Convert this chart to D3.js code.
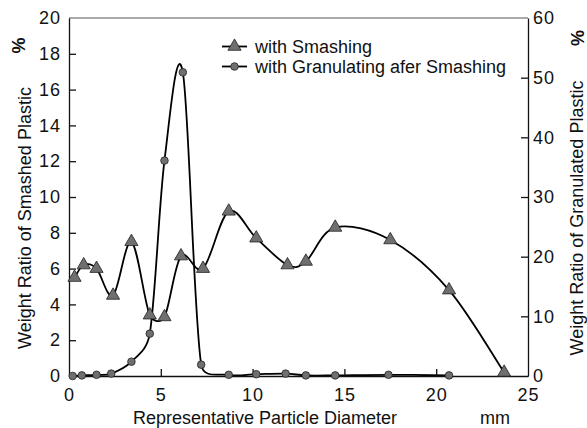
<!DOCTYPE html>
<head>
  <meta charset="utf-8">
  <script src="https://d3js.org/d3.v7.min.js"></script>
<style>
    body { margin: 0; background: #fff; }
    text { font-family: "Liberation Sans", Arial, sans-serif; fill: #111; }
    .tick text { font-size: 18px; letter-spacing: 1px; }
    .lbl { font-size: 18px; }
</style>
</head>
<body>
<script>

// smashed plastic (left axis, %)
var smashX = [0.3, 0.8, 1.5, 2.4, 3.4, 4.4, 5.2, 6.1, 7.3, 8.7, 10.2, 11.9, 12.9, 14.5, 17.5, 20.7, 23.7];
var smashY = [5.5, 6.2, 6.0, 4.5, 7.5, 3.4, 3.3, 6.7, 6.0, 9.2, 7.7, 6.2, 6.4, 8.3, 7.6, 4.8, 0.2];

// granulated after smashing (right axis, %)
var granX = [0.2, 0.7, 1.5, 2.3, 3.4, 4.4, 5.2, 6.2, 7.2, 8.7, 10.2, 11.8, 12.9, 14.5, 17.4, 20.7];
var granY = [0, 0.1, 0.2, 0.4, 2.4, 7.1, 36.1, 50.9, 1.9, 0.2, 0.3, 0.4, 0.1, 0.1, 0.2, 0.1];

var xTicks = [0, 5, 10, 15, 20, 25];
var yLeftTicks = [0, 2, 4, 6, 8, 10, 12, 14, 16, 18, 20];
var yRightTicks = [0, 10, 20, 30, 40, 50, 60];

var width = 587, height = 428;
var mLeft = 69, mRight = 528, mTop = 18, mBottom = 376;

var svg = d3.select("body").append("svg")
    .attr("width", width)
    .attr("height", height);

var x = d3.scaleLinear().domain([0, 25]).range([mLeft, mRight]);
var yL = d3.scaleLinear().domain([0, 20]).range([mBottom, mTop]);
var yR = d3.scaleLinear().domain([0, 60]).range([mBottom, mTop]);

// smoothed line like the spreadsheet one: catmull-rom tangents (1/6),
// but a control arm is never longer than half of its segment
function smoothPath(pts) {
    var p = d3.path();
    var n = pts.length;
    function dist(a, b) { return Math.hypot(b[0] - a[0], b[1] - a[1]); }
    var arms = pts.map(function (pt, i) {
        var prev = pts[Math.max(i - 1, 0)], next = pts[Math.min(i + 1, n - 1)];
        var tx = next[0] - prev[0], ty = next[1] - prev[1];
        var len = Math.hypot(tx, ty) || 1;
        var ux = tx / len, uy = ty / len;
        var a = len / 6;
        var before = i > 0 ? Math.min(a, dist(pts[i - 1], pt) * 0.5) : 0;
        var after = i < n - 1 ? Math.min(a, dist(pt, pts[i + 1]) * 0.5) : 0;
        return {
            b: [pt[0] - ux * before, pt[1] - uy * before],
            a: [pt[0] + ux * after, pt[1] + uy * after]
        };
    });
    p.moveTo(pts[0][0], pts[0][1]);
    for (var i = 1; i < n; i++) {
        p.bezierCurveTo(arms[i - 1].a[0], arms[i - 1].a[1], arms[i].b[0], arms[i].b[1], pts[i][0], pts[i][1]);
    }
    return p.toString();
}

// curves are cut at the plot area
svg.append("clipPath").attr("id", "plot")
    .append("rect")
    .attr("x", mLeft).attr("y", mTop)
    .attr("width", mRight - mLeft).attr("height", mBottom - mTop);

// frame line on top
svg.append("line")
    .attr("x1", mLeft).attr("x2", mRight)
    .attr("y1", mTop).attr("y2", mTop)
    .attr("stroke", "#555").attr("stroke-width", 1);

var smash = smashX.map(function (v, i) { return [v, smashY[i]]; });
var gran = granX.map(function (v, i) { return [v, granY[i]]; });

svg.append("path")
    .attr("clip-path", "url(#plot)")
    .attr("d", smoothPath(gran.map(function (d) { return [x(d[0]), yR(d[1])]; })))
    .attr("fill", "none").attr("stroke", "#000").attr("stroke-width", 1.8);

svg.append("path")
    .attr("clip-path", "url(#plot)")
    .attr("d", smoothPath(smash.map(function (d) { return [x(d[0]), yL(d[1])]; })))
    .attr("fill", "none").attr("stroke", "#000").attr("stroke-width", 1.8);

var xAxis = svg.append("g")
    .attr("transform", "translate(0," + mBottom + ")")
    .call(d3.axisBottom(x).tickValues(xTicks).tickSize(-7).tickPadding(12).tickSizeOuter(0));
xAxis.selectAll(".tick line").filter(function (d) { return d == 0 || d == 25; }).remove();

var lAxis = svg.append("g")
    .attr("transform", "translate(" + mLeft + ",0)")
    .call(d3.axisLeft(yL).tickValues(yLeftTicks).tickSize(-7).tickPadding(8).tickSizeOuter(0));
lAxis.selectAll(".tick line").filter(function (d) { return d == 0 || d == 20; }).remove();

var rAxis = svg.append("g")
    .attr("transform", "translate(" + mRight + ",0)")
    .call(d3.axisRight(yR).tickValues(yRightTicks).tickSize(-7).tickPadding(5).tickSizeOuter(0));
rAxis.selectAll(".tick line").filter(function (d) { return d == 0 || d == 60; }).remove();

svg.selectAll(".domain").attr("stroke", "#111").attr("stroke-width", 1.3);
svg.selectAll(".tick line").attr("stroke", "#111").attr("stroke-width", 1.3);
svg.selectAll(".tick text").attr("font-family", null).attr("font-size", null).attr("fill", "#111");

var tri = d3.symbol().type(d3.symbolTriangle).size(75);

svg.selectAll(".gran").data(gran).enter().append("circle")
    .attr("cx", function (d) { return x(d[0]); })
    .attr("cy", function (d) { return yR(d[1]); })
    .attr("r", 3.8)
    .attr("fill", "#6f6f6f").attr("stroke", "#222").attr("stroke-width", 0.8);

svg.selectAll(".smash").data(smash).enter().append("path")
    .attr("d", tri)
    .attr("transform", function (d) { return "translate(" + x(d[0]) + "," + yL(d[1]) + ")"; })
    .attr("fill", "#6f6f6f").attr("stroke", "#222").attr("stroke-width", 0.8);

// legend
var lg = svg.append("g");
lg.append("line").attr("x1", 222).attr("x2", 247).attr("y1", 46.5).attr("y2", 46.5)
    .attr("stroke", "#000").attr("stroke-width", 1.8);
lg.append("path").attr("d", tri).attr("transform", "translate(234.5,46.5)")
    .attr("fill", "#6f6f6f").attr("stroke", "#222").attr("stroke-width", 0.8);
lg.append("text").attr("class", "lbl").attr("x", 255).attr("y", 52.5).text("with Smashing");
lg.append("line").attr("x1", 222).attr("x2", 247).attr("y1", 66.5).attr("y2", 66.5)
    .attr("stroke", "#000").attr("stroke-width", 1.8);
lg.append("circle").attr("cx", 234.5).attr("cy", 66.5).attr("r", 3.8)
    .attr("fill", "#6f6f6f").attr("stroke", "#222").attr("stroke-width", 0.8);
lg.append("text").attr("class", "lbl").attr("x", 255).attr("y", 72.5).text("with Granulating afer Smashing");

// axis titles
svg.append("text").attr("class", "lbl").attr("x", 133).attr("y", 424)
    .text("Representative Particle Diameter");
svg.append("text").attr("class", "lbl").attr("x", 480).attr("y", 424).text("mm");

svg.append("text").attr("class", "lbl")
    .attr("transform", "translate(31,218) rotate(-90)")
    .attr("text-anchor", "middle")
    .text("Weight Ratio of Smashed Plastic");
svg.append("text").attr("class", "lbl")
    .attr("transform", "translate(25,45.5) rotate(-90)")
    .attr("text-anchor", "middle").attr("font-weight", "bold")
    .text("%");

svg.append("text").attr("class", "lbl")
    .attr("transform", "translate(583,218) rotate(-90)")
    .attr("text-anchor", "middle")
    .text("Weight Ratio of Granulated Plastic");
svg.append("text").attr("class", "lbl")
    .attr("transform", "translate(584,38) rotate(-90)")
    .attr("text-anchor", "middle").attr("font-weight", "bold")
    .text("%");

</script>
</body>
